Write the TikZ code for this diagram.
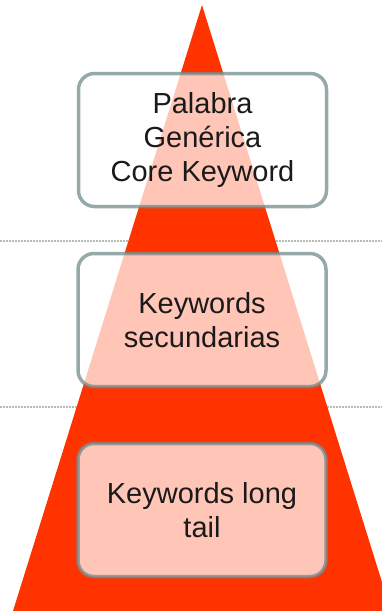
\documentclass[tikz,border=0pt]{standalone}
\usepackage{fontspec}
\setmainfont{Liberation Sans}
\definecolor{trired}{HTML}{FF3300}
\definecolor{boxline}{HTML}{738D8E}
\definecolor{dotline}{HTML}{B8B8B8}
\definecolor{txt}{HTML}{1A1A1A}
\begin{document}
\begin{tikzpicture}[x=1pt,y=-1pt,
  kbox/.style={rectangle, rounded corners=16pt, minimum width=248pt, minimum height=133pt,
    fill=white, fill opacity=0.72, draw=boxline, draw opacity=0.75, line width=3.5pt,
    text opacity=1, text=txt, align=center,
    font=\fontsize{29pt}{34pt}\selectfont},
  sep/.style={dotline, line width=1.2pt, dash pattern=on 1.5pt off 1.5pt}]
\useasboundingbox (0,0) rectangle (382,611);
\coordinate (l1a) at (0,241); \coordinate (l1b) at (382,241);
\coordinate (l2a) at (0,407); \coordinate (l2b) at (382,407);
\draw[sep] (l1a) -- (l1b);
\draw[sep] (l2a) -- (l2b);
\begin{scope}
\clip (0,0) rectangle (382,611);
\fill[trired] (202,5) -- (13,611) -- (391,611) -- cycle;
\end{scope}
\node[kbox] (b1) at (202.5,140) {Palabra\\Genérica\\Core Keyword};
\node[kbox] (b2) at (202,320) {Keywords\\secundarias};
\node[kbox] (b3) at (202,510) {Keywords long\\tail};
\end{tikzpicture}
\end{document}
